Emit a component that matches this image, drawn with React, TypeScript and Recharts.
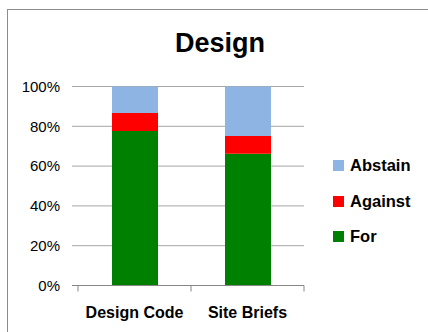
import React from "react"
import { Bar, BarChart, CartesianGrid, Legend, XAxis, YAxis } from "recharts"

const categories = ["Design Code", "Site Briefs"]
const forValues = [77.6, 66.2]
const againstValues = [9.1, 8.9]
const abstainValues = [13.3, 24.9]
const yTicks = [0, 20, 40, 60, 80, 100]

const rows = categories.map((name, i) => ({
  name,
  For: forValues[i],
  Against: againstValues[i],
  Abstain: abstainValues[i],
}))

const FONT = "'Liberation Sans', Arial, sans-serif"
const PAD_LEFT = 6
const legendOrder = ["Abstain", "Against", "For"]

function CategoryTick(props: any) {
  const { x, y, payload, index, width, visibleTicksCount } = props
  const count = visibleTicksCount || categories.length
  const half = width ? (width - PAD_LEFT) / count / 2 : 56
  const last = index === count - 1
  return (
    <g>
      <line x1={x - half} x2={x - half} y1={y} y2={y + 6} stroke="#868686" />
      {last && <line x1={x + half} x2={x + half} y1={y} y2={y + 6} stroke="#868686" />}
      <text x={x} y={y + 32} textAnchor="middle" fontFamily={FONT} fontWeight="bold" fontSize={16} fill="#000">
        {payload.value}
      </text>
    </g>
  )
}

function LegendBox({ payload }: any) {
  const items = legendOrder
    .map((k) => (payload || []).find((p: any) => p.value === k))
    .filter(Boolean)
  return (
    <div style={{ fontFamily: FONT, fontWeight: "bold", fontSize: 16.5 }}>
      {items.map((p: any) => (
        <div key={p.value} style={{ display: "flex", alignItems: "center", height: 35.5 }}>
          <span style={{ width: 11, height: 11, background: p.color, marginRight: 6, display: "inline-block" }} />
          <span>{p.value}</span>
        </div>
      ))}
    </div>
  )
}

export default function App() {
  return (
    <div
      style={{
        position: "fixed",
        left: 7,
        top: 9,
        width: 421,
        height: 323,
        boxSizing: "border-box",
        borderTop: "1.5px solid #8c8c8c",
        borderLeft: "1.5px solid #8c8c8c",
        background: "#fff",
        overflow: "hidden",
      }}
    >
      <div
        style={{
          position: "absolute",
          left: 112,
          top: 20,
          width: 200,
          textAlign: "center",
          fontFamily: FONT,
          fontWeight: "bold",
          fontSize: 27,
          lineHeight: "27px",
          color: "#000",
        }}
      >
        Design
      </div>
      <div style={{ position: "absolute", left: 0, top: 0 }}>
        <BarChart
          width={420}
          height={320}
          data={rows}
          margin={{ top: 76.5, right: 124, bottom: 0, left: 4 }}
          barSize={46}
        >
          <CartesianGrid vertical={false} stroke="#a6a6a6" />
          <XAxis
            dataKey="name"
            padding={{ left: PAD_LEFT, right: 0 }}
            axisLine={{ stroke: "#868686" }}
            tickLine={false}
            tickSize={0}
            tickMargin={0}
            interval={0}
            tick={<CategoryTick />}
            height={44.5}
          />
          <YAxis
            width={60}
            domain={[0, 100]}
            ticks={yTicks}
            tickFormatter={(v: number) => `${v}%`}
            axisLine={false}
            tickLine={false}
            tickMargin={6}
            tick={{ fontFamily: FONT, fontSize: 15, fill: "#000" }}
          />
          <Legend
            layout="vertical"
            align="center"
            verticalAlign="middle"
            content={<LegendBox />}
            wrapperStyle={{ left: 325, top: 138, width: 95 }}
          />
          <Bar dataKey="For" stackId="a" fill="#008000" isAnimationActive={false} />
          <Bar dataKey="Against" stackId="a" fill="#ff0000" isAnimationActive={false} />
          <Bar dataKey="Abstain" stackId="a" fill="#8eb4e3" isAnimationActive={false} />
        </BarChart>
      </div>
    </div>
  )
}
